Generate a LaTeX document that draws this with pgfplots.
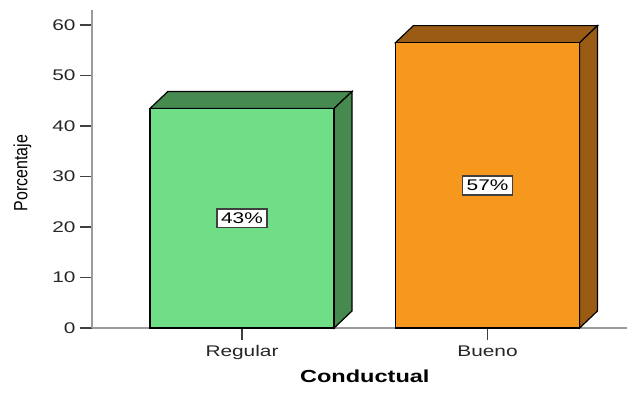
\documentclass[border=0pt]{standalone}
\usepackage{pgfplots}
\pgfplotsset{compat=1.18}
\usepackage{fontspec}
\setmainfont[FakeStretch=1.35]{Liberation Sans}
\newfontfamily\ytitlefont{Liberation Sans}

\definecolor{regfront}{RGB}{112,221,135}
\definecolor{regside}{RGB}{70,138,80}
\definecolor{buefront}{RGB}{247,152,30}
\definecolor{bueside}{RGB}{154,92,20}
\definecolor{axisgray}{RGB}{155,155,155}
\definecolor{tickgray}{RGB}{64,64,64}

\begin{document}
\begin{tikzpicture}
\path[use as bounding box] (0,0) rectangle (628bp,394bp);
\begin{axis}[
  at={(92bp,66bp)}, anchor=south west,
  scale only axis, width=535bp, height=318bp,
  xmin=-0.611, xmax=1.568, ymin=0, ymax=63,
  clip=false,
  axis x line=bottom, axis y line=left,
  axis line style={draw=axisgray, line width=2.5bp, -},
  tick align=outside,
  major tick length=12bp,
  every tick/.style={draw=tickgray, line width=1.5bp},
  xtick={0,1}, xticklabels={Regular,Bueno},
  ytick={0,10,...,60},
  /pgf/number format/assume math mode=true,
  tick label style={font=\fontsize{15.5}{17}\selectfont, text=black!85},
  yticklabel style={xshift=-1bp},
  xticklabel style={yshift=-2bp},
  xlabel={Conductual},
  every axis x label/.style={at={(axis cs:0.5,0)}, anchor=base, yshift=-54bp,
    font=\fontsize{17.5}{20}\selectfont\bfseries},
  ylabel={\scalebox{1}[1.2]{\ytitlefont\fontsize{16}{18}\selectfont Porcentaje}},
  every axis y label/.style={at={(axis cs:-0.894,30.7)}, anchor=center, rotate=90},
]
  % Regular: top and side faces, then the front face
  \addplot[fill=regside, draw=black, line width=1.2bp]
    coordinates {(-0.375,43.48) (-0.302,46.86) (0.448,46.86) (0.375,43.48)} -- cycle;
  \addplot[fill=regside, draw=black, line width=1.2bp]
    coordinates {(0.375,0) (0.448,3.38) (0.448,46.86) (0.375,43.48)} -- cycle;
  \addplot[ybar, bar width=0.75, bar shift=0pt, fill=regfront, draw=black, line width=1.2bp]
    coordinates {(0,43.48)};
  % Bueno: top and side faces, then the front face
  \addplot[fill=bueside, draw=black, line width=1.2bp]
    coordinates {(0.625,56.52) (0.698,59.90) (1.448,59.90) (1.375,56.52)} -- cycle;
  \addplot[fill=bueside, draw=black, line width=1.2bp]
    coordinates {(1.375,0) (1.448,3.38) (1.448,59.90) (1.375,56.52)} -- cycle;
  \addplot[ybar, bar width=0.75, bar shift=0pt, fill=buefront, draw=black, line width=1.2bp]
    coordinates {(1,56.52)};
  % value labels at half height of each bar
  \node[fill=white, draw=tickgray, line width=1.5bp, inner xsep=4bp, inner ysep=4bp,
        font=\fontsize{15.5}{17}\selectfont] at (axis cs:0,21.74) {43\%};
  \node[fill=white, draw=tickgray, line width=1.5bp, inner xsep=4bp, inner ysep=4bp,
        font=\fontsize{15.5}{17}\selectfont] at (axis cs:1,28.26) {57\%};
\end{axis}
\end{tikzpicture}
\end{document}
